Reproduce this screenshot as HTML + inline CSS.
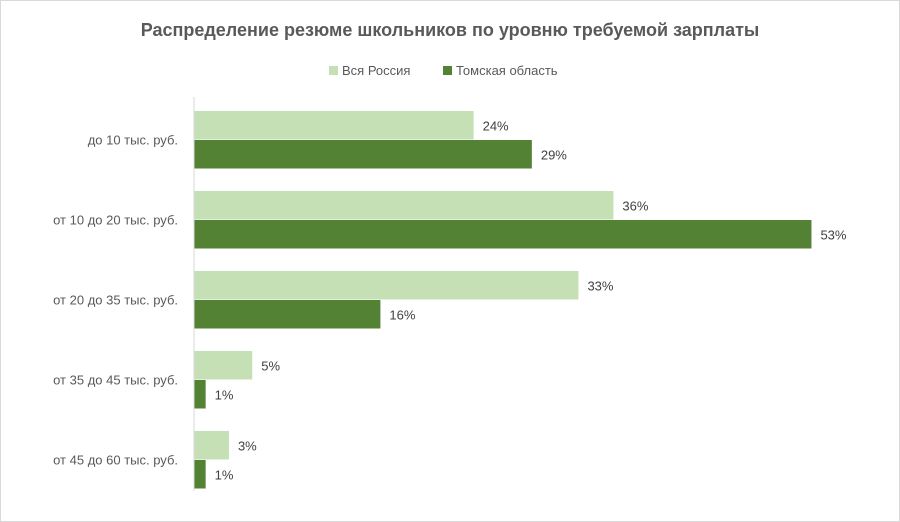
<!DOCTYPE html>
<html><head><meta charset="utf-8"><style>
body{margin:0;background:#fff;}
svg{display:block;font-family:"Liberation Sans",sans-serif;}
</style></head><body>
<svg id="c" width="900" height="522">
<rect x="0.5" y="0.5" width="899" height="521" fill="#fff" stroke="#d9d9d9"/>
<text x="450" y="36" text-anchor="middle" font-size="18" font-weight="bold" fill="#595959">Распределение резюме школьников по уровню требуемой зарплаты</text>
<g>
<rect x="329" y="66" width="9" height="9" fill="#c5e0b4"/>
<text x="342" y="75" font-size="13" fill="#595959">Вся Россия</text>
<rect x="443" y="66" width="9" height="9" fill="#548235"/>
<text x="456" y="75" font-size="13" fill="#595959">Томская область</text>
</g>
<g id="bars"></g>
<line x1="194" y1="97" x2="194" y2="491" stroke="#d9d9d9"/>
</svg>
<script>
const categories=["до 10 тыс. руб.","от 10 до 20 тыс. руб.","от 20 до 35 тыс. руб.","от 35 до 45 тыс. руб.","от 45 до 60 тыс. руб."];
const russia=[24,36,33,5,3];
const tomsk=[29,53,16,1,1];
const x0=194, pxPer=11.65, top0=111, pitch=80, bh=28.5;
const xs=v=>x0+v*pxPer;
const g=document.getElementById('bars');
const NS="http://www.w3.org/2000/svg";
function mk(t,a){const e=document.createElementNS(NS,t);for(const k in a)e.setAttribute(k,a[k]);return e;}
categories.forEach((c,i)=>{
  const y=top0+i*pitch;
  const lab=mk('text',{x:178,y:y+bh+5,'text-anchor':'end','font-size':13,fill:'#595959'});
  lab.textContent=c;
  
  
  g.appendChild(lab);
  [[russia,'#c5e0b4',0,'bar-russia'],[tomsk,'#548235',bh+0.5,'bar-tomsk']].forEach(([arr,col,off,nm])=>{
    const v=arr[i];
    const r=mk('rect',{x:x0,y:y+off,width:Math.max(xs(v)-x0,0),height:bh,fill:col});
    
    
    g.appendChild(r);
    const t=mk('text',{x:xs(v)+9,y:y+off+bh/2+5,'font-size':13,fill:'#404040'});
    t.textContent=v+'%';
    
    
    g.appendChild(t);
  });
});
</script>
</body></html>
